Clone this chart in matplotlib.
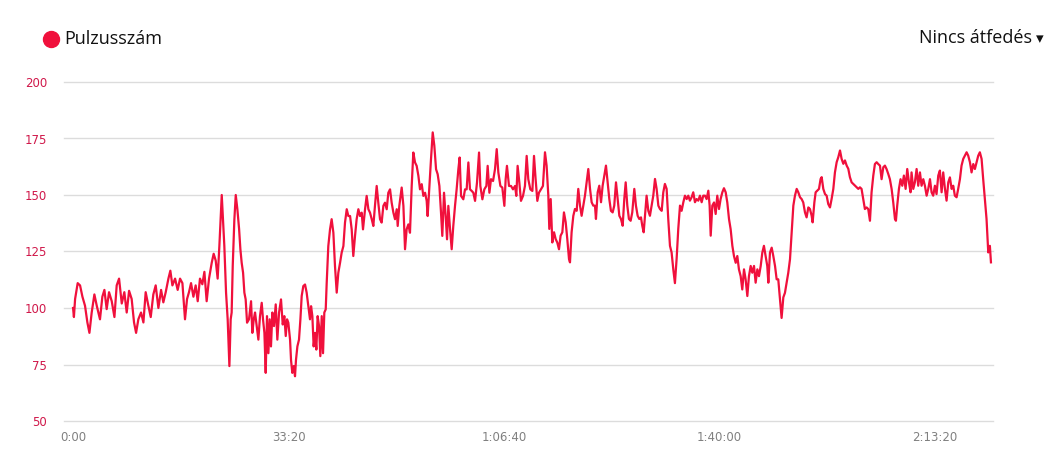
import numpy as np
import matplotlib
matplotlib.use("Agg")
import matplotlib.pyplot as plt

# heart rate trace: time in seconds, bpm
times_s = [
    0, 8, 19, 43, 65, 87, 111, 133, 152, 173, 198, 220, 250, 272, 291, 312, 334, 359, 384, 405,
    427, 452, 476, 498, 520, 544, 566, 585, 606, 631, 653, 674, 699, 721, 745, 767, 792, 817, 838, 860,
    885, 903, 922, 947, 971, 993, 1015, 1039, 1058, 1076, 1095, 1117, 1138, 1157, 1178, 1200, 1219, 1240, 1262, 1287,
    1305, 1324, 1342, 1358, 1380, 1404,
    1420, 1435, 1451, 1463, 1472, 1482, 1497, 1510, 1525, 1541, 1553, 1565, 1578, 1590, 1602, 1615, 1633, 1652, 1664, 1677,
    1689, 1704, 1720, 1735, 1751, 1763, 1776, 1788, 1800, 1813, 1825, 1837, 1850, 1865, 1881, 1896, 1912, 1930, 1946, 1961,
    1974, 1986, 1998, 2014, 2023, 2035, 2048, 2060, 2069, 2082, 2097, 2110, 2122, 2137, 2153, 2168, 2184, 2199, 2209, 2221,
    2233, 2246, 2258, 2270, 2283, 2295, 2308, 2320, 2332, 2345, 2354, 2369, 2385, 2400, 2416, 2431, 2447, 2462, 2478, 2493,
    2509, 2524, 2540, 2555, 2571, 2586, 2601, 2617, 2632, 2648, 2663, 2679, 2691, 2710, 2725, 2741, 2756, 2772, 2787, 2802,
    2818, 2833, 2849, 2864, 2880, 2895, 2911, 2926, 2942,
    2957, 2973, 2988, 3004, 3013, 3028, 3050, 3066, 3081, 3096, 3112, 3127, 3143, 3158, 3174, 3189, 3205, 3220, 3236, 3251,
    3267, 3282, 3291, 3307, 3322, 3338, 3353, 3369, 3384, 3400, 3415, 3427, 3443, 3458, 3471, 3483, 3499, 3514, 3529, 3545,
    3560, 3576, 3588, 3601, 3622, 3638, 3653, 3669, 3684, 3700, 3715, 3731, 3749, 3768, 3780, 3799, 3817, 3836, 3848, 3864,
    3879, 3898, 3916, 3932, 3947, 3966, 3984, 4003, 4015, 4027, 4046, 4065, 4083, 4102, 4114, 4126, 4142, 4157, 4176, 4194,
    4210, 4225, 4244, 4263, 4278, 4293, 4309, 4324, 4343, 4361,
    4380, 4395, 4411, 4420, 4433, 4448, 4464, 4479, 4494, 4510, 4525, 4541, 4556, 4572, 4587, 4603, 4612, 4627, 4643, 4658,
    4674, 4689, 4705, 4720, 4736, 4751, 4767, 4782, 4798, 4813, 4828, 4844, 4853, 4869, 4884, 4900, 4915, 4931, 4946, 4961,
    4977, 4992, 5008, 5023, 5039, 5054, 5070, 5085, 5101, 5116, 5129, 5144, 5159, 5175, 5190, 5209, 5224, 5240, 5255, 5271,
    5283, 5296, 5308, 5323, 5339, 5354, 5370, 5385, 5401, 5416, 5432, 5447, 5463, 5478, 5493, 5509, 5524, 5540, 5555, 5571,
    5586, 5602, 5617, 5633, 5648, 5664, 5679, 5695, 5710, 5725, 5741, 5756, 5772, 5787, 5803, 5818, 5834, 5849,
    5865, 5880, 5896, 5908, 5918, 5933, 5949, 5964, 5979, 5995, 6010, 6026, 6041, 6057, 6072, 6088, 6103, 6119, 6134, 6150,
    6165, 6180, 6196, 6211, 6227, 6242, 6258, 6273, 6289, 6304, 6320, 6335, 6351, 6366, 6382, 6397, 6412, 6428, 6443, 6453,
    6468, 6484, 6499, 6515, 6530, 6545, 6561, 6576, 6592, 6607, 6623, 6638, 6654, 6669, 6685, 6700, 6716, 6731, 6747, 6762,
    6777, 6793, 6808, 6824, 6839, 6855, 6864, 6880, 6892, 6907, 6923, 6938, 6948, 6963, 6979, 6994, 7009, 7025, 7040, 7056,
    7071, 7087, 7102, 7118, 7133, 7149, 7164, 7180, 7195, 7210, 7226, 7241, 7257, 7272, 7288,
    7303, 7318, 7334, 7349, 7365, 7380, 7396, 7411, 7427, 7442, 7458, 7473, 7489, 7504, 7520, 7535, 7550, 7566, 7581, 7597,
    7612, 7628, 7637, 7649, 7665, 7680, 7696, 7711, 7727, 7742, 7758, 7773, 7782, 7798, 7813, 7829, 7844, 7860, 7875, 7891,
    7906, 7922, 7937, 7953, 7968, 7983, 7999, 8014, 8030, 8045, 8061, 8076, 8092, 8107, 8123, 8138, 8154, 8169, 8184, 8200,
    8215, 8231, 8246, 8262, 8277, 8293, 8308, 8324, 8339, 8355, 8370, 8386, 8401, 8416, 8432, 8447, 8463, 8478, 8494, 8509,
    8519,
]
bpm = [
    100, 96, 104, 111, 110, 105, 101, 93.6, 89, 98, 106, 101, 95, 105, 108, 99.5, 107, 103, 96, 110,
    113, 102, 107, 98, 107.6, 104, 93.6, 89, 95, 98, 93.6, 107, 101, 96, 106, 110, 100, 108, 102.5, 107,
    113, 116.5, 110, 113, 108, 113, 111, 95, 104, 107, 111, 105, 110, 103, 113, 110.5, 116, 103, 113, 120,
    124, 121, 113, 127.5, 150, 127.5,
    106.8, 95, 74.3, 95, 98, 118.6, 139, 150, 143.7, 135, 126, 120, 115.6, 106.8, 103.8, 93.5, 95, 103, 89, 95,
    98, 92, 86, 96.4, 102.3, 95, 89, 71.3, 96.4, 80, 95, 83, 98, 92, 101.6, 86, 98, 103.8, 92.7, 96.4,
    87.6, 95, 93.5, 86, 77, 71.3, 74.3, 69.8, 77, 83, 86, 95, 105.3, 109.7, 110.4, 106.8, 100.8, 95, 100.8, 96.4,
    83, 89, 81.6, 96.4, 92, 78.7, 96.4, 80, 98, 99.4, 111, 127.4, 134.8, 139.3, 133.3, 118.6, 106.8, 115.6, 120, 124.5,
    127.4, 137.8, 143.7, 140.7, 140.7, 134.8, 123, 131.9, 139.3, 143.7, 140.7, 142.2, 134.8, 143.7, 149.6, 143.7, 142.2, 139.3, 136.3, 145.2,
    154, 146.6, 139.3, 137.8, 145.2, 146.6, 143.7, 151, 152.5,
    146.6, 142.2, 139.3, 143.7, 136.3, 145.2, 153.3, 145.2, 126, 134.8, 137, 133.3, 154, 168.8, 164.4, 162.9, 158.5, 152.5, 154.8, 149.6,
    151, 147.4, 140.7, 154, 165.8, 177.7, 171.8, 161.4, 159.2, 154, 142.2, 131.9, 151, 140.7, 130.4, 145.2, 134.8, 126, 136.3, 145.2,
    152.5, 161.4, 166.6, 149.6, 148.1, 152.5, 152.5, 164.4, 152.5, 151.8, 151, 147.4, 155.5, 168.8, 154, 148.1, 152.5, 154, 162.9, 151,
    157, 156.2, 161.4, 170.3, 160, 154, 153.3, 145.2, 157, 162.9, 154, 154, 152.5, 154, 149.6, 162.9, 155.5, 147.4, 149.6, 154,
    167.3, 157, 152.5, 151.8, 167.3, 157, 147.4, 151, 152.5, 154,
    168.9, 163, 149.7, 135, 148.2, 129, 133.5, 130.5, 129, 126, 132, 133.5, 142.3, 138, 130.5, 121.6, 120.2, 133.5, 140.8, 143.8,
    143, 152.7, 145.3, 140.8, 145.3, 149.7, 155.6, 161.5, 152.7, 146.8, 145.3, 145.3, 139.4, 151.2, 154.1, 146.8, 154.1, 158.6, 163, 155.6,
    148.2, 143, 142.3, 145.3, 155.6, 148.2, 140.8, 139.4, 136.4, 148.2, 155.6, 145.3, 139.4, 138.6, 142.3, 152.7, 145.3, 140.8, 139.4, 140.1,
    136.4, 133.5, 140.8, 149.7, 143, 140.8, 145.3, 149.7, 157.1, 152.7, 145.3, 143.8, 143, 151.2, 154.9, 152.7, 139.4, 127.5, 124.6, 117,
    111, 122, 135, 145.3, 143, 146.8, 149.7, 148.2, 149.7, 147.5, 149, 151.2, 146.8, 148.2, 147.5, 149.7, 146.8, 149.7,
    149.7, 148.2, 151.9, 145.3, 132, 145.3, 146.7, 141.6, 149.7, 143.8, 148.2, 151.2, 153, 151.2, 146.7, 139.3, 134.9, 127.5, 123, 120,
    123, 117.1, 114.1, 108.2, 117.1, 112.7, 105.3, 114.1, 118.6, 115.6, 118.6, 111.2, 117.1, 114.1, 118.6, 124.5, 127.5, 123, 118.6, 111.2,
    124.5, 126.7, 123, 118.6, 112.7, 112.7, 103.8, 95.6, 104.7, 106.7, 111.2, 115.6, 121.6, 133.4, 145.3, 149.7, 152.7, 151.2, 149, 148.2,
    146.7, 142.3, 140.1, 144.5, 143.8, 140.8, 137.9, 146.7, 151.2, 151.9, 152.7, 157.1, 157.9, 152.7, 150.4, 149.7, 146, 144.5, 148.2, 152.7,
    160, 164.5, 166.7, 169.7, 166, 163.8, 165.3, 163, 161.6, 157.9, 155.6, 154.9, 154.1, 153.4, 152.7,
    153.4, 152.7, 148.2, 143.8, 144.5, 143.8, 138.6, 151.2, 158.6, 163.7, 164.5, 163.7, 163, 157, 162.3, 163, 161.5, 159.3, 157, 152.7,
    146.8, 139.4, 138.6, 145.3, 152.7, 157, 154.1, 158.6, 152.7, 161.5, 155.6, 151.2, 160, 152.7, 155.6, 161.5, 154.1, 160, 154.1, 157,
    154.1, 149.7, 152.7, 157, 151.2, 149.7, 154.1, 150.4, 158.6, 160.8, 151.2, 160, 152.7, 147.5, 155.6, 157.8, 152.7, 154.1, 149.7, 149,
    152.7, 157, 163, 166, 167.4, 168.9, 167.4, 164.5, 160, 163.7, 161.5, 164.5, 167.4, 168.9, 166, 157, 148.2, 139.4, 124.6, 127.5,
    120.2,
]

y_ticks = [50, 75, 100, 125, 150, 175, 200]
x_ticks = [0, 2000, 4000, 6000, 8000]
x_labels = ["0:00", "33:20", "1:06:40", "1:40:00", "2:13:20"]

line_color = "#f0103c"
narrow = ["Liberation Sans Narrow", "DejaVu Sans"]

fig = plt.figure(figsize=(10.54, 4.63), dpi=100)
ax = fig.add_axes([64 / 1054, 1 - 421 / 463, 929 / 1054, 339 / 463])

ax.plot(times_s, bpm, color=line_color, linewidth=1.6, solid_joinstyle="round", clip_on=False, zorder=3)

ax.set_xlim(-84, 8538)
ax.set_ylim(50, 200)
ax.set_yticks(y_ticks)
ax.set_xticks(x_ticks)
ax.set_xticklabels(x_labels)
ax.grid(axis="y", color="#dcdcdc", linewidth=1)
ax.grid(axis="x", visible=False)
for g in ax.get_ygridlines():
    g.set_clip_on(False)
for s in ax.spines.values():
    s.set_visible(False)
ax.tick_params(axis="both", length=0)
ax.tick_params(axis="y", pad=12, labelcolor="#d0184a", labelsize=8.5)
ax.tick_params(axis="x", pad=7, labelcolor="#808080", labelsize=8.5)
for lab in ax.get_xticklabels() + ax.get_yticklabels():
    lab.set_family(narrow)

# legend dot + label, dropdown text on the right
ax.plot([51 / 1054], [1 - 39 / 463], marker="o", markersize=11.5, color=line_color,
        transform=fig.transFigure, clip_on=False)
fig.text(64 / 1054, 1 - 39 / 463, "Pulzusszám", fontsize=13, family=["Open Sans", "DejaVu Sans"],
         color="#111111", va="center", ha="left")
fig.text(1032 / 1054, 1 - 38 / 463, "Nincs átfedés", fontsize=13, family=["Open Sans", "DejaVu Sans"],
         color="#111111", va="center", ha="right")
fig.text(1040 / 1054, 1 - 39 / 463, "▾", fontsize=11, family=["DejaVu Sans"],
         color="#111111", va="center", ha="center")

fig.savefig("out.png", dpi=100, facecolor="white")
